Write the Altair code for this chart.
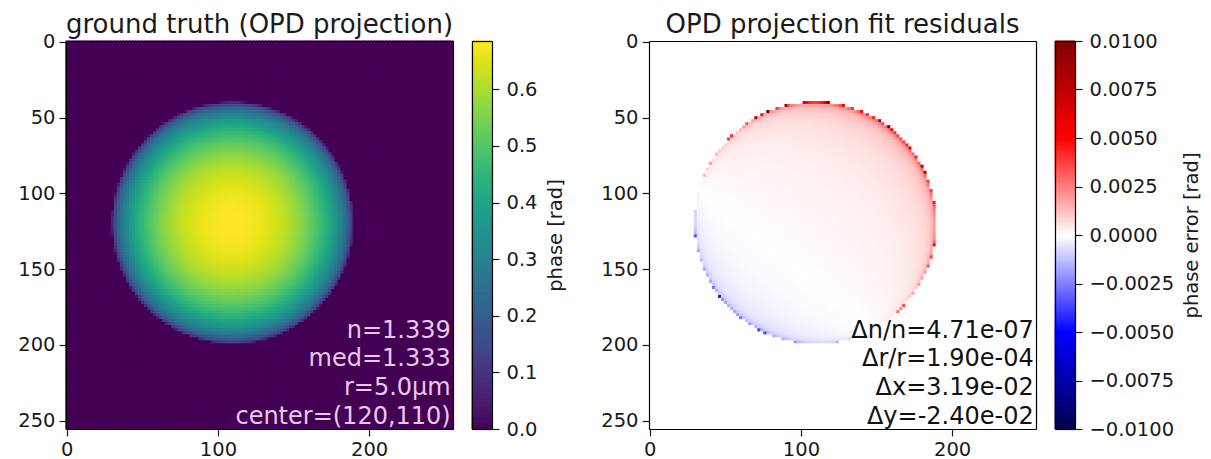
import numpy as np
import pandas as pd
import altair as alt

alt.data_transformers.disable_max_rows()

# ---------------- values ----------------
image_size = 256          # pixels per side
cell = 2                  # pixels per drawn cell

# sphere parameters (from the annotation of the left panel)
n_sphere = 1.339
n_medium = 1.333
radius_um = 5.0
wavelength_um = 0.55
center_row, center_col = 120, 110
radius_px = 80

# residual pattern
res_amp = 2.0e-4
res_offset = 0.74
res_grad_col = 1.19
res_grad_row = -1.44

left_labels = ["n=1.339", "med=1.333", "r=5.0µm", "center=(120,110)"]
right_labels = ["Δn/n=4.71e-07", "Δr/r=1.90e-04", "Δx=3.19e-02", "Δy=-2.40e-02"]
label_pos = [254, 252]

x_ticks = [0, 100, 200]
y_ticks = [0, 50, 100, 150, 200, 250]
phase_ticks = [0.0, 0.1, 0.2, 0.3, 0.4, 0.5, 0.6]
err_ticks = [-0.01, -0.0075, -0.005, -0.0025, 0.0, 0.0025, 0.005, 0.0075, 0.01]
err_lim = 0.01

seismic_colors = ["#00004d", "#0000ff", "#ffffff", "#ff0000", "#800000"]

# ---------------- images ----------------
starts = np.arange(0, image_size, cell)
mid = starts + (cell - 1) / 2.0
cc, rr = np.meshgrid(mid, mid)
X = (cc - center_col) / radius_px
Y = (rr - center_row) / radius_px
rho2 = X ** 2 + Y ** 2
inside = rho2 < 1.0
u = np.sqrt(np.clip(1.0 - rho2, 0.0, None))
phase_max = 2 * np.pi / wavelength_um * (n_sphere - n_medium) * 2 * radius_um
phase = np.where(inside, phase_max * u, 0.0)
err = np.where(inside,
               res_amp * (res_offset + res_grad_col * X + res_grad_row * Y) / np.maximum(u, 1e-3),
               0.0)
err = np.clip(err, -err_lim, err_lim)

x0g, y0g = np.meshgrid(starts - 0.5, starts - 0.5)


def image_df(vals, nd):
    return pd.DataFrame({
        "x0": x0g.ravel(), "x1": x0g.ravel() + cell,
        "y0": y0g.ravel(), "y1": y0g.ravel() + cell,
        "v": np.round(vals.ravel(), nd),
    })


df_phase = image_df(phase, 5)
df_err = image_df(err, 6)

# ---------------- chart ----------------
W, H = 387, 388
LINE_H = 28.7
INK = "#1a1a1a"
sx = alt.Scale(domain=[-0.5, image_size - 0.5], nice=False, zero=False)
sy = alt.Scale(domain=[-0.5, image_size - 0.5], nice=False, zero=False, reverse=True)


def tick_axis(orient, values, title=None, **kw):
    return alt.Axis(orient=orient, values=values, title=title, grid=False, domain=True,
                    domainColor="black", domainWidth=1.2, tickSize=7, tickColor=INK,
                    tickWidth=1.2, labelFlush=False, zindex=1, **kw)


def frame_axis(orient):
    return alt.Axis(orient=orient, labels=False, ticks=False, title=None, grid=False,
                    domain=True, domainColor="black", domainWidth=1.2, zindex=1)


cs_phase = alt.Scale(scheme="viridis", domain=[0, phase_max], clamp=True)
cs_err = alt.Scale(domain=[-err_lim, -err_lim / 2, 0, err_lim / 2, err_lim],
                   range=seismic_colors, interpolate="rgb", clamp=True)


def panel(df, labels, cscale, title, text_color):
    heat = alt.Chart(df).mark_rect(strokeWidth=1.2).encode(
        x=alt.X("x0:Q", scale=sx, axis=tick_axis("bottom", x_ticks, labelPadding=4, format="d")),
        x2="x1:Q",
        y=alt.Y("y0:Q", scale=sy, axis=tick_axis("left", y_ticks, labelPadding=4, format="d")),
        y2="y1:Q",
        color=alt.Color("v:Q", scale=cscale, legend=None),
        stroke=alt.Stroke("v:Q", scale=cscale, legend=None),
    )
    tdf = pd.DataFrame({"x0": [label_pos[0]], "y0": [label_pos[1]], "t": ["\n".join(labels)]})
    txt = alt.Chart(tdf).mark_text(
        align="right", baseline="alphabetic", lineBreak="\n", lineHeight=LINE_H,
        dy=-(len(labels) - 1) * LINE_H,
        fontSize=24, color=text_color, font="DejaVu Sans",
    ).encode(
        x=alt.X("x0:Q", scale=sx, axis=frame_axis("top")),
        y=alt.Y("y0:Q", scale=sy, axis=frame_axis("right")),
        text="t:N",
    )
    return alt.layer(heat, txt).resolve_axis(x="independent", y="independent").properties(
        width=W, height=H,
        title=alt.TitleParams(title, frame="group", offset=-6, anchor="middle"),
    )


def colorbar(lo, hi, cscale, ticks, fmt, title, n=192):
    e = np.linspace(lo, hi, n + 1)
    df = pd.DataFrame({"b0": e[:-1], "b1": e[1:], "m": (e[:-1] + e[1:]) / 2,
                       "c0": 0.0, "c1": 1.0})
    cx = alt.Scale(domain=[0, 1], nice=False, zero=False)
    cy = alt.Scale(domain=[lo, hi], nice=False, zero=False)
    bar = alt.Chart(df).mark_rect(strokeWidth=1.0).encode(
        x=alt.X("c0:Q", scale=cx, axis=frame_axis("bottom")), x2="c1:Q",
        y=alt.Y("b0:Q", scale=cy,
                axis=tick_axis("right", ticks, title=title, format=fmt, labelPadding=7,
                               titleAngle=270, titlePadding=28)),
        y2="b1:Q",
        color=alt.Color("m:Q", scale=cscale, legend=None),
        stroke=alt.Stroke("m:Q", scale=cscale, legend=None),
    )
    frame = alt.Chart(df.head(1)).mark_text(text="", opacity=0).encode(
        x=alt.X("c0:Q", scale=cx, axis=frame_axis("top")),
        y=alt.Y("b0:Q", scale=cy, axis=frame_axis("left")),
    )
    return alt.layer(bar, frame).resolve_axis(x="independent", y="independent").properties(
        width=20, height=H)


left = alt.hconcat(
    panel(df_phase, left_labels, cs_phase, "ground truth (OPD projection)", "#e8c9e8"),
    colorbar(0, phase_max, cs_phase, phase_ticks, ".1f", "phase [rad]"),
    spacing=16,
).resolve_scale(color="independent", stroke="independent")

right = alt.hconcat(
    panel(df_err, right_labels, cs_err, "OPD projection fit residuals", "#111111"),
    colorbar(-err_lim, err_lim, cs_err, err_ticks, ".4f", "phase error [rad]"),
    spacing=16,
).resolve_scale(color="independent", stroke="independent")

chart = alt.hconcat(left, right, spacing=34).resolve_scale(
    color="independent", stroke="independent"
).properties(
    padding={"left": 9, "top": 3, "right": 0, "bottom": 0}
).configure(
    font="DejaVu Sans"
).configure_view(
    stroke="transparent"
).configure_axis(
    labelFontSize=19.5, labelColor=INK,
    titleFontSize=19.5, titleColor=INK, titleFontWeight="normal",
    labelFont="DejaVu Sans", titleFont="DejaVu Sans",
).configure_title(
    fontSize=26, fontWeight="normal", color=INK, font="DejaVu Sans"
)

chart.save("out.html", embed_options={"renderer": "svg", "actions": False})
